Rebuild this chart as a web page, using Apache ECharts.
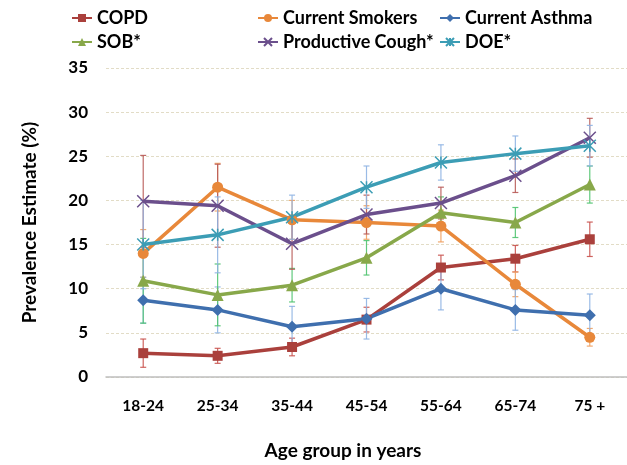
<!DOCTYPE html>
<html><head><meta charset="utf-8">
<script src="https://cdn.jsdelivr.net/npm/echarts@6/dist/echarts.min.js"></script>
<style>html,body{margin:0;padding:0;background:#fff}#c{width:627px;height:465px}</style>
</head><body><div id="c"></div>
<script>
var categories = ['18-24','25-34','35-44','45-54','55-64','65-74','75 +'];
var yTicks = [0,5,10,15,20,25,30,35];
var copd    = [2.7, 2.4, 3.4, 6.5, 12.4, 13.4, 15.6];
var smokers = [14.0, 21.5, 17.8, 17.5, 17.1, 10.5, 4.5];
var asthma  = [8.7, 7.6, 5.7, 6.6, 10.0, 7.6, 7.0];
var sob     = [10.9, 9.3, 10.4, 13.5, 18.6, 17.5, 21.8];
var cough   = [19.9, 19.4, 15.1, 18.4, 19.7, 22.8, 27.1];
var doe     = [15.0, 16.1, 18.1, 21.5, 24.3, 25.3, 26.2];
var copdErr    = [1.6, 0.85, 1.0, 1.4, 1.4, 1.5, 1.95];
var smokersErr = [2.7, 2.7, 2.2, 1.9, 1.8, 1.4, 1.0];
var asthmaErr  = [2.6, 2.6, 2.3, 2.3, 2.4, 2.3, 2.4];
var sobErr     = [4.8, 3.5, 1.9, 1.95, 1.8, 1.7, 2.1];
var coughErr   = [5.2, 4.7, 2.9, 2.2, 1.8, 1.9, 2.2];
var doeErr     = [5.0, 4.3, 2.5, 2.4, 2.0, 2.0, 2.3];

var FONT = 'Lato';
var X_PATH = 'path://M0,0L10,10M10,0L0,10';
var AST_PATH = 'path://M0,0L10,10M10,0L0,10M5,0L5,10';
var defs = [
  {name:'COPD', data:copd, err:copdErr, color:'#aa403c', ec:'#c9524e', symbol:'rect', size:10},
  {name:'Current Smokers', data:smokers, err:smokersErr, color:'#e8883a', ec:'#f0a060', symbol:'circle', size:11},
  {name:'Current Asthma', data:asthma, err:asthmaErr, color:'#3f6fae', ec:'#8fb4e3', symbol:'diamond', size:12},
  {name:'SOB*', data:sob, err:sobErr, color:'#88a84a', ec:'#4fc36f', symbol:'triangle', size:12},
  {name:'Productive Cough*', data:cough, err:coughErr, color:'#6b4f8c', ec:'#b85a57', symbol:X_PATH, size:12, stroke:true},
  {name:'DOE*', data:doe, err:doeErr, color:'#3c9db5', ec:'#8fb4e3', symbol:AST_PATH, size:12, stroke:true}
];

var series = [];
defs.forEach(function(d){
  var errData = d.data.map(function(v,i){ return [i, v - d.err[i], v + d.err[i]]; });
  series.push({
    type:'custom', name: d.name + ' err', z: 1, silent:true,
    data: errData,
    renderItem: function(params, api){
      var x = api.value(0);
      var lo = api.coord([x, api.value(1)]);
      var hi = api.coord([x, api.value(2)]);
      var w = 3;
      var st = {stroke: d.ec, lineWidth: 1.2, opacity: 0.9};
      return {type:'group', children:[
        {type:'line', shape:{x1:lo[0], y1:lo[1], x2:hi[0], y2:hi[1]}, style:st},
        {type:'line', shape:{x1:lo[0]-w, y1:lo[1], x2:lo[0]+w, y2:lo[1]}, style:st},
        {type:'line', shape:{x1:hi[0]-w, y1:hi[1], x2:hi[0]+w, y2:hi[1]}, style:st}
      ]};
    }
  });
});
defs.forEach(function(d){
  series.push({
    type:'line', name:d.name, data:d.data, z: 3,
    symbol:d.symbol, symbolSize:d.size, showSymbol:true,
    lineStyle:{color:d.color, width:3.5},
    itemStyle: d.stroke ? {color:d.color, borderColor:d.color, borderWidth:1.5} : {color:d.color, borderWidth:0},
    emphasis:{disabled:true}
  });
});

var legendPos = [
  {left:71, top:9}, {left:257, top:9}, {left:439, top:9},
  {left:71, top:33}, {left:257, top:33}, {left:439, top:33}
];
var legends = defs.map(function(d,i){
  return {
    data:[d.name], left:legendPos[i].left, top:legendPos[i].top, padding:0,
    itemWidth:20, itemHeight:10, itemGap:2, selectedMode:false,
    textStyle:{fontFamily:FONT, fontWeight:'bold', fontSize:18, color:'#000'}
  };
});

var chart = echarts.init(document.getElementById('c'));
chart.setOption({
  animation:false,
  legend: legends,
  grid:{left:106, right:-8, top:68, bottom:79},
  xAxis:{
    type:'category', data:categories, boundaryGap:true,
    axisLine:{lineStyle:{color:'#bfbfbf', width:1.5}},
    axisTick:{show:false},
    axisLabel:{fontFamily:FONT, fontWeight:'bold', fontSize:15.5, color:'#000', margin:21, interval:0},
    name:'Age group in years', nameLocation:'middle', nameGap:64,
    nameTextStyle:{fontFamily:FONT, fontWeight:'bold', fontSize:19, color:'#000', padding:[0,47,0,0]}
  },
  yAxis:{
    type:'value', min:yTicks[0], max:yTicks[yTicks.length-1], interval:5,
    axisLine:{show:false}, axisTick:{show:false},
    axisLabel:{fontFamily:FONT, fontWeight:'bold', fontSize:17, color:'#000', margin:18},
    splitLine:{lineStyle:{color:'#e2dcc6', type:[3,2], width:1}},
    name:'Prevalence Estimate (%)', nameLocation:'middle', nameGap:67, nameRotate:90,
    nameTextStyle:{fontFamily:FONT, fontWeight:'bold', fontSize:19, color:'#000'}
  },
  series: series
});
</script></body></html>
